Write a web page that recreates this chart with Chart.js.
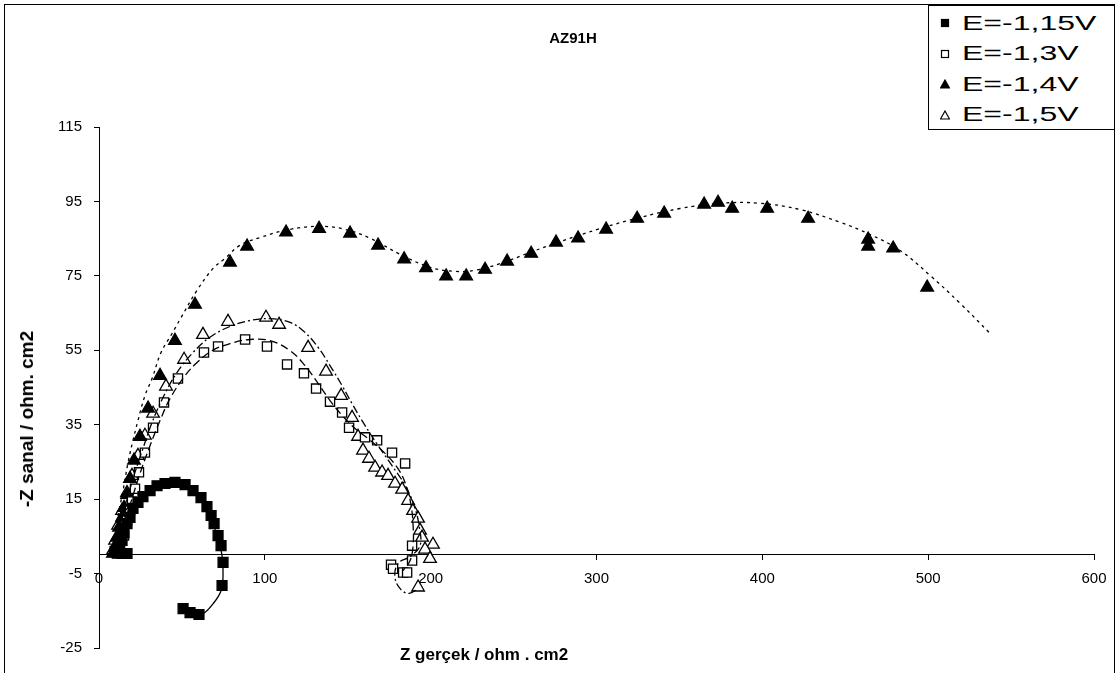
<!DOCTYPE html>
<html>
<head>
<meta charset="utf-8">
<script src="https://cdn.jsdelivr.net/npm/chart.js@4.4.0/dist/chart.umd.min.js"></script>
<style>
  html, body { margin: 0; padding: 0; background: #fff; }
  #wrap { position: relative; width: 1118px; height: 673px; overflow: hidden; font-family: "Liberation Sans", Arial, sans-serif; color: #000; }
  #frame { position: absolute; left: 4px; top: 4px; width: 1111px; height: 700px; border: 1px solid #000; box-sizing: border-box; pointer-events: none; }
  #legend { position: absolute; left: 928px; top: 5px; width: 187px; height: 125px; border: 1px solid #000; background: #fff; box-sizing: border-box; padding-top: 2px; }
  #legend .item { height: 30.5px; display: flex; align-items: center; white-space: nowrap; }
  #legend .mk { width: 30px; display: flex; justify-content: center; margin-left: 1px; }
  #legend .lbl { font-size: 20px; transform: scaleX(1.6); transform-origin: left center; margin-left: 2px; }
  .axtitle { position: absolute; font-weight: bold; white-space: nowrap; }
  #title { left: 573px; top: 37px; font-size: 15px; transform: translate(-50%, -50%); }
  #xtitle { left: 400px; top: 645px; font-size: 17px; }
  #ytitle { left: 27px; top: 419px; font-size: 19px; transform: translate(-50%, -50%) rotate(-90deg); }
</style>
</head>
<body>
<div id="wrap">
  <canvas id="chart" width="1118" height="673"></canvas>
  <div id="frame"></div>
  <div id="legend"></div>
  <div class="axtitle" id="title">AZ91H</div>
  <div class="axtitle" id="xtitle">Z gerçek / ohm . cm2</div>
  <div class="axtitle" id="ytitle">-Z sanal / ohm. cm2</div>
</div>
<script>
// Ejes
const xTicks = { min: 0, max: 600, step: 100 };
const yTicks = { min: -25, max: 115, step: 20 };

const seriesNames = ['E=-1,15V', 'E=-1,3V', 'E=-1,4V', 'E=-1,5V'];

// Datos medidos [Z real, -Z imag]
const pts115 = [
  [9.7, 1.0], [10.9, 0.6], [11.5, 2.0], [12.2, 1.2], [13.9, 0.4], [16.9, 0.4], [13.9, 3.9], [15.1, 6.0],
  [16.9, 8.4], [18.7, 10.1], [20.5, 12.5], [23.5, 14.1], [26.5, 15.7], [30.8, 17.3], [35.0, 18.6],
  [39.8, 19.2], [45.8, 19.5], [51.9, 18.9], [56.7, 17.3], [61.5, 15.4], [65.1, 13.0], [67.6, 10.6],
  [69.4, 8.4], [71.8, 5.2], [73.6, 2.5], [74.8, -2.0], [74.2, -8.2], [60.3, -16.0], [54.9, -15.5], [50.7, -14.4]
];
const pts13 = [
  [10.9, 0.4], [12.7, 2.5], [15.1, 5.2], [16.9, 9.2], [18.7, 11.9], [19.9, 14.4], [21.7, 17.8], [24.1, 22.2],
  [27.7, 27.5], [32.6, 34.2], [39.2, 41.0], [47.6, 47.4], [63.3, 54.4], [71.8, 56.0], [88.1, 57.9],
  [101.3, 56.0], [113.4, 51.2], [123.6, 48.8], [130.9, 44.7], [139.3, 41.2], [146.6, 38.3], [150.8, 34.2],
  [160.4, 31.6], [167.7, 30.8], [176.7, 27.5], [184.6, 24.6], [188.8, 2.5], [188.8, -1.5], [176.1, -2.6],
  [177.3, -3.7], [183.4, -4.7], [185.8, -4.7]
];
const pts14 = [
  [8.4, 0.4], [9.7, 2.0], [10.9, 4.7], [12.1, 7.4], [13.9, 10.1], [15.1, 12.7], [16.9, 16.2], [18.7, 20.5],
  [21.1, 25.4], [24.7, 31.8], [29.6, 39.4], [36.8, 48.2], [45.8, 57.6], [57.9, 67.3], [79.0, 78.6],
  [89.3, 82.9], [112.8, 86.7], [132.7, 87.7], [151.4, 86.4], [168.3, 83.2], [184.0, 79.5], [197.2, 77.1],
  [209.3, 74.9], [221.4, 74.9], [232.8, 76.7], [246.1, 78.9], [260.6, 81.0], [275.6, 84.0], [288.9, 85.1],
  [305.8, 87.5], [324.5, 90.4], [340.8, 91.8], [364.9, 94.2], [373.3, 94.7], [381.8, 93.1], [402.9, 93.1],
  [427.6, 90.4], [463.8, 84.8], [463.8, 82.9], [478.9, 82.4], [499.4, 71.9]
];
const pts15 = [
  [8.4, 1.2], [9.7, 3.9], [11.5, 7.9], [13.9, 11.9], [16.9, 16.7], [19.9, 21.3], [23.5, 26.7], [27.7, 32.1],
  [32.6, 38.0], [40.4, 45.3], [51.3, 52.5], [62.7, 59.2], [77.8, 62.7], [100.7, 63.8], [108.6, 61.9],
  [126.1, 55.7], [136.9, 49.3], [146.0, 42.8], [152.6, 36.9], [156.2, 31.8], [159.2, 28.1], [162.8, 25.9],
  [166.5, 23.5], [170.7, 22.2], [174.3, 21.3], [178.5, 19.2], [182.8, 17.6], [186.4, 14.6], [189.4, 11.9],
  [192.4, 9.8], [193.6, 6.6], [194.8, 4.7], [201.4, 2.8], [196.6, 1.5], [199.6, -1.0], [192.4, -8.7]
];

// Curvas de ajuste
const fit115 = [
  [7.8, 1.2], [9.7, 5.2], [12.7, 9.2], [16.9, 12.5], [22.9, 14.6], [30.8, 17.3], [39.8, 19.5], [48.9, 19.5],
  [56.1, 17.8], [62.1, 14.6], [66.9, 10.6], [71.2, 5.2], [74.2, -0.2], [74.8, -5.5], [73.6, -9.6],
  [68.8, -13.1], [62.7, -15.8], [57.9, -15.8], [51.9, -14.7]
];
const fit13 = [
  [11.5, 0.4], [13.9, 5.2], [16.9, 10.6], [20.5, 16.0], [24.7, 21.9], [30.8, 29.4], [36.8, 36.1], [42.8, 42.0],
  [51.9, 48.2], [59.1, 51.7], [68.2, 54.9], [79.0, 56.8], [91.1, 57.9], [103.1, 57.6], [115.2, 54.9],
  [124.2, 50.9], [132.1, 46.1], [139.3, 41.5], [146.6, 37.5], [154.4, 34.0], [163.5, 30.8], [172.5, 27.3],
  [180.3, 23.2], [185.2, 18.7], [188.2, 13.3], [189.4, 7.9], [189.4, 2.5], [187.6, -1.5], [183.4, -4.2]
];
const fit14 = [
  [7.8, 1.2], [10.9, 9.2], [14.5, 17.3], [17.5, 24.8], [20.5, 30.8], [23.5, 36.1], [27.7, 42.8], [32.0, 47.4],
  [37.4, 54.4], [43.4, 59.0], [49.5, 63.8], [59.1, 71.1], [68.8, 77.0], [76.0, 79.7], [85.0, 83.2],
  [97.1, 85.3], [115.2, 87.5], [133.3, 88.3], [148.4, 87.5], [163.5, 85.1], [181.5, 80.8], [199.6, 77.3],
  [214.7, 76.2], [226.8, 76.5], [241.9, 78.3], [260.0, 81.3], [278.0, 84.2], [302.2, 87.7], [326.3, 90.7],
  [350.4, 93.1], [374.5, 94.5], [398.7, 94.5], [422.8, 92.8], [446.9, 89.4], [465.0, 86.1], [483.1, 81.8],
  [501.2, 75.1], [519.3, 67.6], [537.4, 59.5]
];
const fit15 = [
  [8.4, 0.4], [10.9, 5.2], [13.9, 10.6], [17.5, 16.0], [21.7, 22.2], [26.5, 28.6], [32.0, 35.6], [38.6, 42.3],
  [47.0, 49.0], [56.7, 54.4], [66.9, 58.5], [79.0, 61.4], [91.1, 63.0], [103.1, 63.5], [115.2, 62.5],
  [124.2, 59.8], [132.1, 55.8], [139.3, 50.9], [146.6, 45.5], [153.2, 40.2], [160.4, 34.8], [168.3, 29.4],
  [176.7, 24.0], [184.6, 18.7], [190.0, 13.3], [193.0, 7.9], [193.6, 2.5], [187.6, -0.4], [180.3, -2.3],
  [178.5, -6.1], [182.1, -9.3], [187.0, -10.3], [192.4, -9.0]
];

const toXY = arr => arr.map(p => ({ x: p[0], y: p[1] }));

Chart.defaults.font.family = '"Liberation Sans", Arial, sans-serif';
Chart.defaults.color = '#000';

const marcadores = [
  { style: 'rect', radius: 7, fill: '#000' },
  { style: 'rect', radius: 6.5, fill: '#fff' },
  { style: 'triangle', radius: 7.3, fill: '#000' },
  { style: 'triangle', radius: 7.3, fill: '#fff' }
];
const ajustes = [fit115, fit13, fit14, fit15];
const puntos = [pts115, pts13, pts14, pts15];
const trazos = [[], [8, 4], [3, 4], [8, 3, 2, 3]];

const datasets = [];
ajustes.forEach((fit, i) => {
  datasets.push({
    label: seriesNames[i] + ' ajuste',
    data: toXY(fit),
    showLine: true,
    tension: 0.4,
    borderColor: '#000',
    borderWidth: 1.3,
    borderDash: trazos[i],
    pointRadius: 0,
    fill: false
  });
});
puntos.forEach((pts, i) => {
  datasets.push({
    label: seriesNames[i],
    data: toXY(pts),
    showLine: false,
    pointStyle: marcadores[i].style,
    pointRadius: marcadores[i].radius,
    pointBackgroundColor: marcadores[i].fill,
    pointBorderColor: '#000',
    pointBorderWidth: 1.3
  });
});

const chart = new Chart(document.getElementById('chart'), {
  type: 'scatter',
  data: { datasets },
  options: {
    responsive: false,
    animation: false,
    devicePixelRatio: 1,
    layout: { padding: { left: 0, right: 24, top: 127, bottom: 25 } },
    plugins: {
      legend: { display: false },
      tooltip: { enabled: false },
      title: { display: false }
    },
    scales: {
      x: {
        type: 'linear',
        position: { y: 0 },
        min: xTicks.min,
        max: xTicks.max,
        ticks: { stepSize: xTicks.step, padding: 10, font: { size: 15 }, color: '#000', maxRotation: 0 },
        grid: { drawOnChartArea: false, drawTicks: true, tickLength: 5, color: '#000' },
        border: { color: '#000', width: 1 }
      },
      y: {
        type: 'linear',
        position: 'left',
        min: yTicks.min,
        max: yTicks.max,
        ticks: { stepSize: yTicks.step, padding: 12, font: { size: 15 }, color: '#000' },
        grid: { drawOnChartArea: false, drawTicks: true, tickLength: 5, color: '#000' },
        border: { color: '#000', width: 1 },
        afterFit: scale => { scale.width = 99; }
      }
    }
  }
});

// Leyenda
const legend = document.getElementById('legend');
seriesNames.forEach((name, i) => {
  const m = marcadores[i];
  const shape = m.style === 'rect'
    ? `<rect x="1.5" y="1.5" width="7" height="7" fill="${m.fill}" stroke="#000" stroke-width="1.2"/>`
    : `<polygon points="5,1 9.5,9 0.5,9" fill="${m.fill}" stroke="#000" stroke-width="1.2"/>`;
  legend.insertAdjacentHTML('beforeend',
    `<div class="item"><span class="mk"><svg width="10" height="10">${shape}</svg></span><span class="lbl">${name}</span></div>`);
});
</script>
</body>
</html>
